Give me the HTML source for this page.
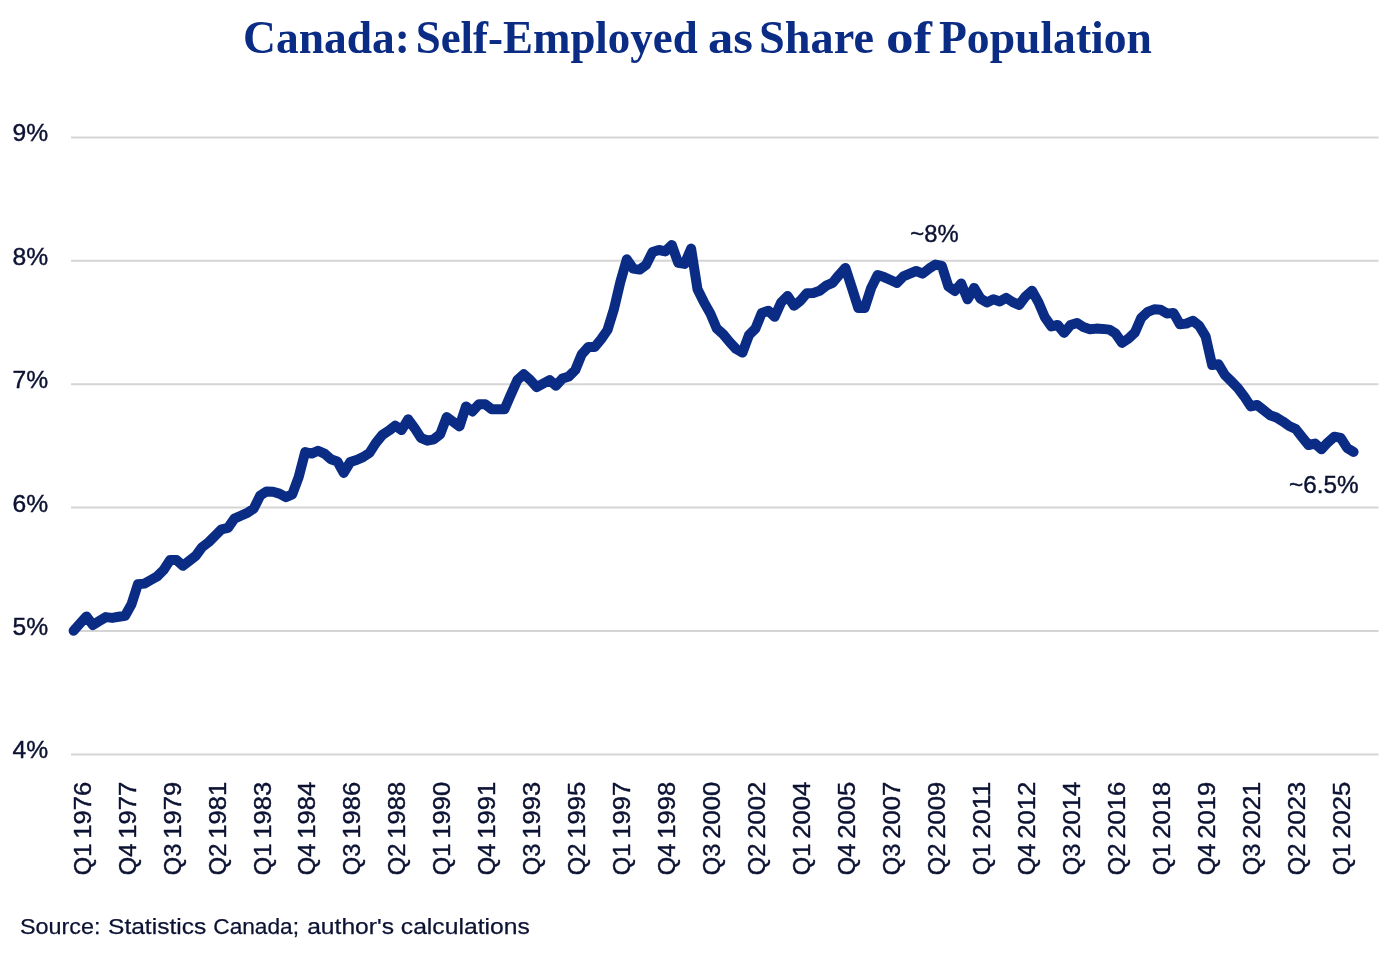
<!DOCTYPE html>
<html lang="en">
<head>
<meta charset="utf-8">
<title>Canada: Self-Employed as Share of Population</title>
<style>
html,body{margin:0;padding:0;background:#fff;}
body{width:1400px;height:954px;overflow:hidden;}
svg{display:block;}
.t{font-family:"Liberation Serif","DejaVu Serif",serif;font-weight:bold;font-size:47px;fill:#0a2c85;}
.a{font-family:"Liberation Sans","DejaVu Sans",sans-serif;font-size:23.5px;fill:#0c1232;stroke:#0c1232;stroke-width:0.4px;}
.x{font-family:"Liberation Sans","DejaVu Sans",sans-serif;font-size:24px;fill:#0c1232;stroke:#0c1232;stroke-width:0.4px;}
.n{font-family:"Liberation Sans","DejaVu Sans",sans-serif;font-size:23.5px;fill:#0c1232;stroke:#0c1232;stroke-width:0.4px;}
.s{font-family:"Liberation Sans","DejaVu Sans",sans-serif;font-size:22.3px;fill:#0c1232;stroke:#0c1232;stroke-width:0.25px;}
</style>
</head>
<body>
<svg width="1400" height="954" viewBox="0 0 1400 954">
<rect x="0" y="0" width="1400" height="954" fill="#ffffff"/>

<g class="t">
<text x="243" y="52.7" textLength="167.0" lengthAdjust="spacingAndGlyphs">Canada:</text>
<text x="415.7" y="52.7" textLength="282.0" lengthAdjust="spacingAndGlyphs">Self-Employed</text>
<text x="708" y="52.7" textLength="45.0" lengthAdjust="spacingAndGlyphs">as</text>
<text x="759" y="52.7" textLength="115.0" lengthAdjust="spacingAndGlyphs">Share</text>
<text x="886" y="52.7" textLength="46.0" lengthAdjust="spacingAndGlyphs">of</text>
<text x="939" y="52.7" textLength="213.0" lengthAdjust="spacingAndGlyphs">Population</text>
</g>
<g stroke="#d5d5d5" stroke-width="2">
<line x1="71" y1="137.4" x2="1378.5" y2="137.4"/>
<line x1="71" y1="260.8" x2="1378.5" y2="260.8"/>
<line x1="71" y1="384.2" x2="1378.5" y2="384.2"/>
<line x1="71" y1="507.6" x2="1378.5" y2="507.6"/>
<line x1="71" y1="631.0" x2="1378.5" y2="631.0"/>
<line x1="71" y1="754.4" x2="1378.5" y2="754.4"/>
</g>
<g class="a">
<text x="12.6" y="141.4" textLength="35.6" lengthAdjust="spacingAndGlyphs">9%</text>
<text x="12.6" y="264.8" textLength="35.6" lengthAdjust="spacingAndGlyphs">8%</text>
<text x="12.6" y="388.2" textLength="35.6" lengthAdjust="spacingAndGlyphs">7%</text>
<text x="12.6" y="511.6" textLength="35.6" lengthAdjust="spacingAndGlyphs">6%</text>
<text x="12.6" y="635.0" textLength="35.6" lengthAdjust="spacingAndGlyphs">5%</text>
<text x="12.6" y="758.4" textLength="35.6" lengthAdjust="spacingAndGlyphs">4%</text>
</g>
<g class="x">
<text transform="translate(90.6,874.3) rotate(-90)"><tspan x="-0.9" textLength="31.6" lengthAdjust="spacingAndGlyphs">Q1</tspan> <tspan x="35.6" textLength="57" lengthAdjust="spacingAndGlyphs">1976</tspan></text>
<text transform="translate(135.6,874.3) rotate(-90)"><tspan x="-0.9" textLength="31.6" lengthAdjust="spacingAndGlyphs">Q4</tspan> <tspan x="35.6" textLength="57" lengthAdjust="spacingAndGlyphs">1977</tspan></text>
<text transform="translate(180.5,874.3) rotate(-90)"><tspan x="-0.9" textLength="31.6" lengthAdjust="spacingAndGlyphs">Q3</tspan> <tspan x="35.6" textLength="57" lengthAdjust="spacingAndGlyphs">1979</tspan></text>
<text transform="translate(225.5,874.3) rotate(-90)"><tspan x="-0.9" textLength="31.6" lengthAdjust="spacingAndGlyphs">Q2</tspan> <tspan x="35.6" textLength="57" lengthAdjust="spacingAndGlyphs">1981</tspan></text>
<text transform="translate(270.5,874.3) rotate(-90)"><tspan x="-0.9" textLength="31.6" lengthAdjust="spacingAndGlyphs">Q1</tspan> <tspan x="35.6" textLength="57" lengthAdjust="spacingAndGlyphs">1983</tspan></text>
<text transform="translate(315.4,874.3) rotate(-90)"><tspan x="-0.9" textLength="31.6" lengthAdjust="spacingAndGlyphs">Q4</tspan> <tspan x="35.6" textLength="57" lengthAdjust="spacingAndGlyphs">1984</tspan></text>
<text transform="translate(360.4,874.3) rotate(-90)"><tspan x="-0.9" textLength="31.6" lengthAdjust="spacingAndGlyphs">Q3</tspan> <tspan x="35.6" textLength="57" lengthAdjust="spacingAndGlyphs">1986</tspan></text>
<text transform="translate(405.4,874.3) rotate(-90)"><tspan x="-0.9" textLength="31.6" lengthAdjust="spacingAndGlyphs">Q2</tspan> <tspan x="35.6" textLength="57" lengthAdjust="spacingAndGlyphs">1988</tspan></text>
<text transform="translate(450.4,874.3) rotate(-90)"><tspan x="-0.9" textLength="31.6" lengthAdjust="spacingAndGlyphs">Q1</tspan> <tspan x="35.6" textLength="57" lengthAdjust="spacingAndGlyphs">1990</tspan></text>
<text transform="translate(495.3,874.3) rotate(-90)"><tspan x="-0.9" textLength="31.6" lengthAdjust="spacingAndGlyphs">Q4</tspan> <tspan x="35.6" textLength="57" lengthAdjust="spacingAndGlyphs">1991</tspan></text>
<text transform="translate(540.3,874.3) rotate(-90)"><tspan x="-0.9" textLength="31.6" lengthAdjust="spacingAndGlyphs">Q3</tspan> <tspan x="35.6" textLength="57" lengthAdjust="spacingAndGlyphs">1993</tspan></text>
<text transform="translate(585.3,874.3) rotate(-90)"><tspan x="-0.9" textLength="31.6" lengthAdjust="spacingAndGlyphs">Q2</tspan> <tspan x="35.6" textLength="57" lengthAdjust="spacingAndGlyphs">1995</tspan></text>
<text transform="translate(630.2,874.3) rotate(-90)"><tspan x="-0.9" textLength="31.6" lengthAdjust="spacingAndGlyphs">Q1</tspan> <tspan x="35.6" textLength="57" lengthAdjust="spacingAndGlyphs">1997</tspan></text>
<text transform="translate(675.2,874.3) rotate(-90)"><tspan x="-0.9" textLength="31.6" lengthAdjust="spacingAndGlyphs">Q4</tspan> <tspan x="35.6" textLength="57" lengthAdjust="spacingAndGlyphs">1998</tspan></text>
<text transform="translate(720.2,874.3) rotate(-90)"><tspan x="-0.9" textLength="31.6" lengthAdjust="spacingAndGlyphs">Q3</tspan> <tspan x="35.6" textLength="57" lengthAdjust="spacingAndGlyphs">2000</tspan></text>
<text transform="translate(765.1,874.3) rotate(-90)"><tspan x="-0.9" textLength="31.6" lengthAdjust="spacingAndGlyphs">Q2</tspan> <tspan x="35.6" textLength="57" lengthAdjust="spacingAndGlyphs">2002</tspan></text>
<text transform="translate(810.1,874.3) rotate(-90)"><tspan x="-0.9" textLength="31.6" lengthAdjust="spacingAndGlyphs">Q1</tspan> <tspan x="35.6" textLength="57" lengthAdjust="spacingAndGlyphs">2004</tspan></text>
<text transform="translate(855.1,874.3) rotate(-90)"><tspan x="-0.9" textLength="31.6" lengthAdjust="spacingAndGlyphs">Q4</tspan> <tspan x="35.6" textLength="57" lengthAdjust="spacingAndGlyphs">2005</tspan></text>
<text transform="translate(900.1,874.3) rotate(-90)"><tspan x="-0.9" textLength="31.6" lengthAdjust="spacingAndGlyphs">Q3</tspan> <tspan x="35.6" textLength="57" lengthAdjust="spacingAndGlyphs">2007</tspan></text>
<text transform="translate(945.0,874.3) rotate(-90)"><tspan x="-0.9" textLength="31.6" lengthAdjust="spacingAndGlyphs">Q2</tspan> <tspan x="35.6" textLength="57" lengthAdjust="spacingAndGlyphs">2009</tspan></text>
<text transform="translate(990.0,874.3) rotate(-90)"><tspan x="-0.9" textLength="31.6" lengthAdjust="spacingAndGlyphs">Q1</tspan> <tspan x="35.6" textLength="57" lengthAdjust="spacingAndGlyphs">2011</tspan></text>
<text transform="translate(1035.0,874.3) rotate(-90)"><tspan x="-0.9" textLength="31.6" lengthAdjust="spacingAndGlyphs">Q4</tspan> <tspan x="35.6" textLength="57" lengthAdjust="spacingAndGlyphs">2012</tspan></text>
<text transform="translate(1079.9,874.3) rotate(-90)"><tspan x="-0.9" textLength="31.6" lengthAdjust="spacingAndGlyphs">Q3</tspan> <tspan x="35.6" textLength="57" lengthAdjust="spacingAndGlyphs">2014</tspan></text>
<text transform="translate(1124.9,874.3) rotate(-90)"><tspan x="-0.9" textLength="31.6" lengthAdjust="spacingAndGlyphs">Q2</tspan> <tspan x="35.6" textLength="57" lengthAdjust="spacingAndGlyphs">2016</tspan></text>
<text transform="translate(1169.9,874.3) rotate(-90)"><tspan x="-0.9" textLength="31.6" lengthAdjust="spacingAndGlyphs">Q1</tspan> <tspan x="35.6" textLength="57" lengthAdjust="spacingAndGlyphs">2018</tspan></text>
<text transform="translate(1214.8,874.3) rotate(-90)"><tspan x="-0.9" textLength="31.6" lengthAdjust="spacingAndGlyphs">Q4</tspan> <tspan x="35.6" textLength="57" lengthAdjust="spacingAndGlyphs">2019</tspan></text>
<text transform="translate(1259.8,874.3) rotate(-90)"><tspan x="-0.9" textLength="31.6" lengthAdjust="spacingAndGlyphs">Q3</tspan> <tspan x="35.6" textLength="57" lengthAdjust="spacingAndGlyphs">2021</tspan></text>
<text transform="translate(1304.8,874.3) rotate(-90)"><tspan x="-0.9" textLength="31.6" lengthAdjust="spacingAndGlyphs">Q2</tspan> <tspan x="35.6" textLength="57" lengthAdjust="spacingAndGlyphs">2023</tspan></text>
<text transform="translate(1349.8,874.3) rotate(-90)"><tspan x="-0.9" textLength="31.6" lengthAdjust="spacingAndGlyphs">Q1</tspan> <tspan x="35.6" textLength="57" lengthAdjust="spacingAndGlyphs">2025</tspan></text>
</g>
<polyline fill="none" stroke="#0a2c85" stroke-width="10" stroke-linejoin="round" stroke-linecap="round" points="73.6,630.7 80.0,623.5 86.5,616.4 92.9,625.0 99.3,621.0 105.8,617.1 112.2,617.9 118.6,616.8 125.1,615.7 131.5,604.3 137.9,584.3 144.4,583.6 150.8,580.0 157.2,576.4 163.6,570.0 170.1,560.0 176.5,560.0 182.9,565.7 189.4,560.7 195.8,555.7 202.2,547.1 208.7,542.1 215.1,535.7 221.5,529.3 228.0,527.9 234.4,518.6 240.8,515.7 247.3,512.9 253.7,508.6 260.1,495.7 266.6,491.4 273.0,491.7 279.4,493.6 285.9,497.1 292.3,494.3 298.7,477.1 305.2,452.1 311.6,453.6 318.0,450.7 324.4,453.6 330.9,459.3 337.3,461.4 343.7,472.9 350.2,462.1 356.6,460.0 363.0,457.1 369.5,452.9 375.9,442.9 382.3,435.0 388.8,430.7 395.2,425.7 401.6,430.0 408.1,419.3 414.5,427.9 420.9,437.9 427.4,440.7 433.8,439.3 440.2,434.3 446.7,417.1 453.1,421.7 459.5,426.4 466.0,406.4 472.4,411.4 478.8,404.3 485.2,404.3 491.7,409.3 498.1,409.3 504.5,409.3 511.0,394.3 517.4,380.0 523.8,374.3 530.3,380.0 536.7,387.1 543.1,383.6 549.6,380.0 556.0,385.7 562.4,378.6 568.9,376.4 575.3,370.0 581.7,354.3 588.2,347.1 594.6,347.1 601.0,339.3 607.5,330.0 613.9,309.3 620.3,282.1 626.8,259.3 633.2,268.6 639.6,269.6 646.0,265.0 652.5,252.1 658.9,250.0 665.3,251.4 671.8,245.0 678.2,262.9 684.6,263.9 691.1,248.6 697.5,289.3 703.9,302.1 710.4,313.6 716.8,328.6 723.2,334.3 729.7,342.1 736.1,349.0 742.5,352.6 749.0,335.0 755.4,328.6 761.8,312.9 768.3,310.7 774.7,316.8 781.1,302.5 787.6,296.0 794.0,305.7 800.4,300.7 806.8,293.3 813.3,292.9 819.7,290.7 826.1,285.7 832.6,282.9 839.0,275.0 845.4,267.9 851.9,287.9 858.3,307.9 864.7,307.9 871.2,287.9 877.6,275.0 884.0,277.1 890.5,280.0 896.9,282.9 903.3,276.4 909.8,273.6 916.2,271.0 922.6,273.6 929.1,268.6 935.5,264.6 941.9,266.0 948.4,286.4 954.8,291.0 961.2,283.6 967.6,299.3 974.1,287.9 980.5,298.6 986.9,302.4 993.4,299.3 999.8,301.4 1006.2,297.9 1012.7,302.1 1019.1,305.0 1025.5,296.4 1032.0,290.7 1038.4,302.1 1044.8,317.1 1051.3,326.4 1057.7,325.0 1064.1,332.9 1070.6,325.0 1077.0,322.9 1083.4,327.1 1089.9,329.3 1096.3,328.6 1102.7,328.9 1109.2,329.6 1115.6,333.6 1122.0,342.9 1128.4,338.6 1134.9,332.5 1141.3,317.8 1147.7,311.8 1154.2,309.3 1160.6,309.7 1167.0,313.6 1173.5,312.9 1179.9,324.3 1186.3,323.6 1192.8,320.7 1199.2,325.7 1205.6,336.4 1212.1,365.0 1218.5,364.3 1224.9,375.0 1231.4,381.4 1237.8,387.9 1244.2,396.4 1250.7,406.4 1257.1,405.0 1263.5,410.0 1270.0,415.2 1276.4,417.5 1282.8,421.4 1289.2,426.0 1295.7,429.0 1302.1,437.1 1308.5,445.0 1315.0,443.6 1321.4,449.3 1327.8,442.4 1334.3,436.7 1340.7,437.9 1347.1,447.9 1353.6,451.9"/>
<g class="n">
<text x="910.3" y="241.8" textLength="48.3" lengthAdjust="spacingAndGlyphs">~8%</text>
<text x="1289" y="493" textLength="69.6" lengthAdjust="spacingAndGlyphs">~6.5%</text>
</g>
<g class="s">
<text x="20.0" y="933.7" textLength="80.5" lengthAdjust="spacingAndGlyphs">Source:</text>
<text x="108.0" y="933.7" textLength="98.3" lengthAdjust="spacingAndGlyphs">Statistics</text>
<text x="213.3" y="933.7" textLength="85.7" lengthAdjust="spacingAndGlyphs">Canada;</text>
<text x="307.2" y="933.7" textLength="86.8" lengthAdjust="spacingAndGlyphs">author's</text>
<text x="400.8" y="933.7" textLength="129.0" lengthAdjust="spacingAndGlyphs">calculations</text>
</g>
</svg>
</body>
</html>
